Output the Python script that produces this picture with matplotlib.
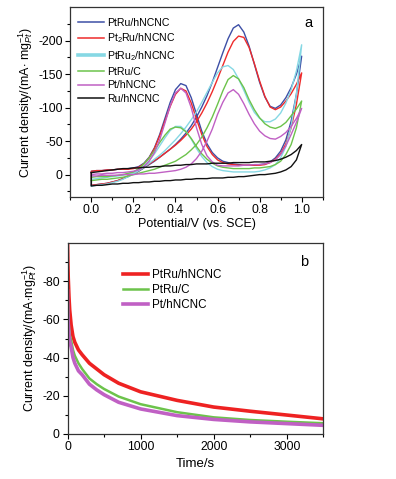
import matplotlib
matplotlib.use("Agg")
import matplotlib.pyplot as plt
import numpy as np

plt.rcParams['font.family'] = ['Liberation Sans', 'DejaVu Sans']
plt.rcParams['mathtext.fontset'] = 'custom'
plt.rcParams['mathtext.rm'] = 'Liberation Sans'
plt.rcParams['mathtext.it'] = 'Liberation Sans:italic'

# ---------------- Panel a: cyclic voltammograms ----------------
potential = [round(0.025 * i, 3) for i in range(41)]  # 0.000 ... 1.000 V

cv_labels = ["PtRu/hNCNC", "Pt$_2$Ru/hNCNC", "PtRu$_2$/hNCNC", "PtRu/C", "Pt/hNCNC", "Ru/hNCNC"]
cv_colors = ["#3d4fa6", "#ee2b2b", "#86d8e4", "#6cc34b", "#c060c4", "#111111"]

# forward scans (0 -> 1.0 V), mA mg^-1
fwd_ptru_hncnc = [16, 15, 14, 13, 11, 9, 6, 3, -1, -5, -10, -15, -20, -26, -32, -38, -45, -53, -62, -73,
                  -86, -101, -118, -138, -160, -182, -203, -219, -224, -213, -192, -165, -138, -116, -102,
                  -99, -104, -115, -130, -150, -177]
fwd_pt2ru_hncnc = [16, 15, 14, 13, 11, 9, 6, 2, -2, -6, -11, -16, -21, -26, -32, -38, -44, -51, -59, -68,
                   -79, -92, -107, -124, -143, -163, -183, -199, -207, -205, -190, -166, -140, -117, -101,
                   -97, -101, -110, -121, -135, -152]
fwd_ptru2_hncnc = [17, 16, 15, 14, 12, 10, 7, 3, -1, -6, -11, -17, -23, -29, -36, -44, -52, -61, -71, -82,
                   -94, -108, -123, -138, -152, -161, -163, -157, -143, -126, -108, -93, -84, -79, -79,
                   -83, -92, -107, -127, -155, -194]
fwd_ptru_c = [9, 8, 7, 7, 6, 5, 4, 2, 0, -2, -4, -6, -8, -11, -14, -17, -20, -25, -30, -37,
              -45, -56, -70, -86, -105, -125, -142, -148, -143, -130, -112, -97, -85, -76, -71,
              -69, -72, -78, -88, -98, -110]
fwd_pt_hncnc = [2, 2, 1, 1, 1, 1, 0, 0, 0, -1, -1, -2, -2, -3, -4, -5, -6, -8, -11, -16,
                -24, -35, -50, -68, -90, -108, -122, -127, -120, -106, -90, -76, -65, -58, -54,
                -53, -57, -63, -72, -84, -99]
fwd_ru_hncnc = [-3, -4, -5, -6, -7, -8, -9, -9, -10, -10, -11, -11, -12, -12, -13, -13, -14, -14, -15, -15,
                -16, -16, -16, -17, -17, -17, -17, -18, -18, -18, -18, -19, -19, -19, -20, -21,
                -23, -26, -30, -36, -45]

# backward scans (listed at the same potentials, 0 -> 1.0 V)
bwd_ptru_hncnc = [-5, -6, -6, -7, -7, -8, -8, -9, -10, -12, -17, -26, -40, -60, -84, -108, -127, -136, -133, -115,
                  -90, -65, -46, -33, -25, -20, -18, -16, -15, -14, -14, -14, -15, -16, -19, -25,
                  -35, -52, -80, -120, -177]
bwd_pt2ru_hncnc = [-5, -6, -6, -7, -7, -8, -8, -8, -9, -11, -16, -25, -39, -58, -80, -102, -120, -129, -125, -107,
                   -83, -60, -42, -30, -22, -18, -16, -15, -14, -14, -14, -14, -14, -15, -18, -23,
                   -31, -46, -70, -105, -152]
bwd_ptru2_hncnc = [7, 6, 5, 4, 3, 2, 1, -1, -3, -7, -13, -21, -31, -43, -55, -66, -72, -72, -65, -53,
                   -39, -27, -18, -12, -8, -6, -5, -4, -4, -4, -4, -4, -5, -7, -10, -15,
                   -25, -42, -72, -120, -194]
bwd_ptru_c = [4, 3, 3, 3, 2, 1, 0, -2, -4, -9, -16, -25, -36, -48, -59, -68, -71, -70, -64, -54,
              -42, -31, -23, -17, -13, -11, -10, -9, -9, -9, -9, -10, -10, -11, -12, -15,
              -20, -30, -45, -70, -110]
bwd_pt_hncnc = [0, -1, -1, -2, -2, -3, -3, -4, -5, -7, -12, -20, -33, -52, -77, -103, -122, -129, -122, -100,
                -70, -45, -28, -19, -14, -13, -13, -13, -13, -14, -14, -15, -15, -16, -18, -22,
                -30, -43, -60, -78, -99]
bwd_ru_hncnc = [17, 16, 16, 15, 14, 14, 13, 13, 12, 12, 11, 11, 10, 10, 9, 9, 8, 8, 7, 7,
                6, 6, 6, 5, 5, 5, 4, 4, 3, 3, 2, 1, 0, 0, -1, -2,
                -4, -7, -12, -22, -45]

fwd_all = [fwd_ptru_hncnc, fwd_pt2ru_hncnc, fwd_ptru2_hncnc, fwd_ptru_c, fwd_pt_hncnc, fwd_ru_hncnc]
bwd_all = [bwd_ptru_hncnc, bwd_pt2ru_hncnc, bwd_ptru2_hncnc, bwd_ptru_c, bwd_pt_hncnc, bwd_ru_hncnc]

# ---------------- Panel b: chronoamperometry ----------------
time_s = [0, 5, 10, 20, 30, 50, 75, 100, 150, 200, 300, 400, 500, 700, 1000, 1500, 2000, 2500, 3000, 3500]
ca_labels = ["PtRu/hNCNC", "PtRu/C", "Pt/hNCNC"]
ca_colors = ["#ee2222", "#6cc34b", "#c060c4"]
ca_ptru_hncnc = [-102, -90, -82, -72, -65, -57, -51, -48, -44, -41.5, -37, -34, -31, -26.5, -22, -17.5, -14, -11.8, -9.8, -7.8]
ca_ptru_c = [-80, -68, -62, -56, -52, -49, -44, -41, -37, -34, -29, -26, -23.5, -19.5, -15.5, -11.3, -8.6, -7.2, -6.3, -5.5]
ca_pt_hncnc = [-75, -64, -58, -52, -48.5, -45.5, -40, -37, -33, -31, -26, -23, -20.5, -16.5, -13, -9.5, -7.5, -6.2, -5.3, -4.4]
ca_all = [ca_ptru_hncnc, ca_ptru_c, ca_pt_hncnc]
ca_widths = [2.6, 1.8, 2.6]

W, H = 396, 479
fig = plt.figure(figsize=(W / 100, H / 100), dpi=100)

def frac(l, t, r, b):
    return [l / W, 1 - b / H, (r - l) / W, (b - t) / H]

ax1 = fig.add_axes(frac(70.3, 7.3, 322.7, 196.7))
ax2 = fig.add_axes(frac(67.5, 243.3, 323.3, 433.7))

for fw, bw, lab, col in zip(fwd_all, bwd_all, cv_labels, cv_colors):
    xs = list(potential) + list(potential[::-1]) + [potential[0]]
    ys = list(fw) + list(bw[::-1]) + [fw[0]]
    ax1.plot(xs, ys, color=col, lw=1.0)
    ax1.plot([], [], color=col, lw=2.6 if col == "#86d8e4" else 1.1, label=lab)

ax1.set_xlim(-0.1, 1.1)
ax1.set_ylim(33, -250)
ax1.set_xticks([0.0, 0.2, 0.4, 0.6, 0.8, 1.0])
ax1.set_xticks(np.arange(-0.1, 1.11, 0.1), minor=True)
ax1.set_yticks([0, -50, -100, -150, -200])
ax1.set_yticks([25, -25, -75, -125, -175, -225], minor=True)
ax1.set_xticklabels(["0.0", "0.2", "0.4", "0.6", "0.8", "1.0"])
ax1.set_yticklabels(["0", "-50", "-100", "-150", "-200"])
ax1.set_xlabel("Potential/V (vs. SCE)", fontsize=9, labelpad=1)
ax1.set_ylabel("Current density/(mA$\\cdot$ mg$_{Pt}^{-1}$)", fontsize=9, labelpad=2)
ax1.text(0.96, 0.915, "a", transform=ax1.transAxes, fontsize=10.5, ha="right", va="center")
leg1 = ax1.legend(loc="upper left", bbox_to_anchor=(0.0, 0.985), frameon=False, fontsize=7.6,
                  handlelength=2.5, handletextpad=0.25, labelspacing=0.36, borderaxespad=0.3)

for ys, lab, col, lw in zip(ca_all, ca_labels, ca_colors, ca_widths):
    ax2.plot(time_s, ys, color=col, lw=lw, label=lab)
ax2.set_xlim(0, 3500)
ax2.set_ylim(0, -100)
ax2.set_xticks([0, 1000, 2000, 3000])
ax2.set_xticks([500, 1500, 2500, 3500], minor=True)
ax2.set_yticks([0, -20, -40, -60, -80])
ax2.set_yticks([-10, -30, -50, -70, -90], minor=True)
ax2.set_yticklabels(["0", "-20", "-40", "-60", "-80"])
ax2.set_xlabel("Time/s", fontsize=9.5, labelpad=3)
ax2.set_ylabel("Current density/(mA$\\cdot$mg$_{Pt}^{-1}$)", fontsize=9, labelpad=2)
ax2.text(0.94, 0.90, "b", transform=ax2.transAxes, fontsize=10.5, ha="right", va="center")
ax2.legend(loc="upper left", bbox_to_anchor=(0.175, 0.92), frameon=False, fontsize=8.4,
           handlelength=2.2, handletextpad=0.3, labelspacing=0.25)

for ax in (ax1, ax2):
    ax.tick_params(which="both", direction="out", top=False, right=False, labelsize=8.7, pad=2)
    ax.tick_params(which="major", length=3.5, width=0.8)
    ax.tick_params(which="minor", length=2, width=0.8)
    for s in ax.spines.values():
        s.set_linewidth(0.9)
        s.set_color("#333333")

fig.savefig("out.png", dpi=100)
